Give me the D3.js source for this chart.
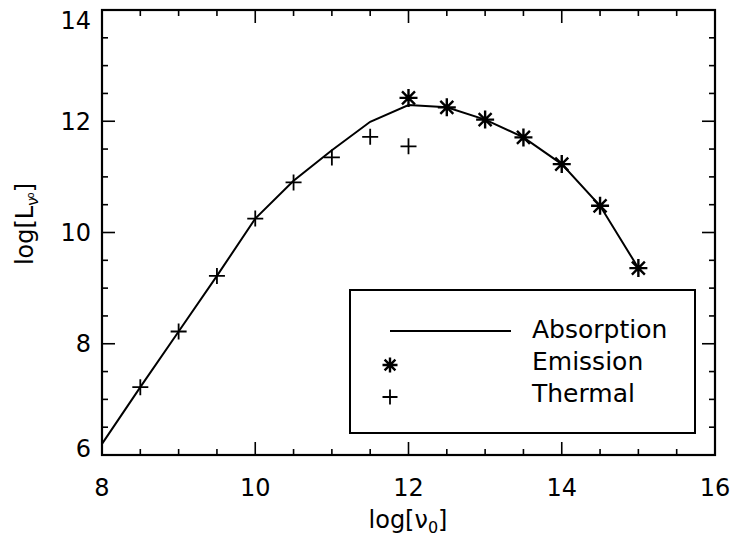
<!DOCTYPE html>
<html>
<head>
<meta charset="utf-8">
<script src="https://cdn.jsdelivr.net/npm/d3@7"></script>
<style>
  html, body { margin: 0; padding: 0; background: #fff; }
  svg { display: block; font-family: "DejaVu Sans", sans-serif; }
</style>
</head>
<body>
<div id="chart"></div>
<script>
// ── data ──
const freqAbs = [8, 8.5, 9, 9.5, 10, 10.5, 11, 11.5, 12, 12.5, 13, 13.5, 14, 14.5, 15];
const absorption = [6.2, 7.22, 8.22, 9.22, 10.25, 10.93, 11.48, 11.99, 12.29, 12.25, 12.03, 11.71, 11.23, 10.48, 9.36];
const freqEm = [12, 12.5, 13, 13.5, 14, 14.5, 15];
const emission = [12.42, 12.25, 12.03, 11.71, 11.23, 10.48, 9.36];
const freqTh = [8.5, 9, 9.5, 10, 10.5, 11, 11.5, 12];
const thermal = [7.22, 8.22, 9.22, 10.25, 10.9, 11.35, 11.72, 11.55];
const xTicks = [8, 10, 12, 14, 16];
const yTicks = [6, 8, 10, 12, 14];
const legendItems = ["Absorption", "Emission", "Thermal"];

const width = 735, height = 544;
const pLeft = 102, pRight = 715, pTop = 10, pBottom = 455;

const x = d3.scaleLinear().domain([8, 16]).range([pLeft, pRight]);
const y = d3.scaleLinear().domain([6, 14]).range([pBottom, pTop]);

const svg = d3.select("#chart").append("svg")
  .attr("width", width).attr("height", height)
  .attr("viewBox", [0, 0, width, height]);

// ── frame + inward ticks on all sides ──
const minorX = d3.range(8, 16.01, 0.5);
const minorY = d3.range(6, 14.01, 0.5);
const isMajor = v => Math.abs(v / 2 - Math.round(v / 2)) < 1e-6;
const tickLen = v => isMajor(v) ? 13 : 6;

const ticks = svg.append("g").attr("stroke", "#000").attr("stroke-width", 1.6);
ticks.append("g").selectAll("line").data(minorX).join("line")
  .attr("x1", d => x(d)).attr("x2", d => x(d))
  .attr("y1", pBottom).attr("y2", d => pBottom - tickLen(d));
ticks.append("g").selectAll("line").data(minorX).join("line")
  .attr("x1", d => x(d)).attr("x2", d => x(d))
  .attr("y1", pTop).attr("y2", d => pTop + tickLen(d));
ticks.append("g").selectAll("line").data(minorY).join("line")
  .attr("y1", d => y(d)).attr("y2", d => y(d))
  .attr("x1", pLeft).attr("x2", d => pLeft + tickLen(d));
ticks.append("g").selectAll("line").data(minorY).join("line")
  .attr("y1", d => y(d)).attr("y2", d => y(d))
  .attr("x1", pRight).attr("x2", d => pRight - tickLen(d));

svg.append("rect")
  .attr("x", pLeft).attr("y", pTop)
  .attr("width", pRight - pLeft).attr("height", pBottom - pTop)
  .attr("fill", "none").attr("stroke", "#000").attr("stroke-width", 2.2);

// tick labels
svg.append("g").selectAll("text").data(xTicks).join("text")
  .attr("x", d => x(d)).attr("y", 496)
  .attr("text-anchor", "middle").attr("font-size", 24)
  .text(d => d);

svg.append("g").selectAll("text").data(yTicks).join("text")
  .attr("x", pLeft - 11)
  .attr("y", d => Math.min(Math.max(y(d), pTop + 10), pBottom - 7))
  .attr("dy", "0.36em")
  .attr("text-anchor", "end").attr("font-size", 24)
  .text(d => d);

// axis titles
const xt = svg.append("text")
  .attr("x", 408).attr("y", 528)
  .attr("text-anchor", "middle").attr("font-size", 24);
xt.append("tspan").text("log[ν");
xt.append("tspan").attr("font-size", 16).attr("dy", 5).text("0");
xt.append("tspan").attr("dy", -5).text("]");

const yt = svg.append("text")
  .attr("transform", "translate(33,224) rotate(-90)")
  .attr("text-anchor", "middle").attr("font-size", 24);
yt.append("tspan").text("log[L");
yt.append("tspan").attr("font-size", 15).attr("dy", 5).text("ν");
yt.append("tspan").attr("font-size", 10).attr("dy", -4).attr("dx", -1).text("o");
yt.append("tspan").attr("dy", -1).text("]");

// ── data marks ──
const line = d3.line().x(d => x(d[0])).y(d => y(d[1]));
svg.append("path")
  .datum(d3.zip(freqAbs, absorption))
  .attr("fill", "none").attr("stroke", "#000").attr("stroke-width", 2)
  .attr("d", line);

const plusPath = s => `M${-s},0H${s}M0,${-s}V${s}`;
const starPath = s => {
  const d = s * 0.72;
  return `M${-s},0H${s}M0,${-s}V${s}M${-d},${-d}L${d},${d}M${-d},${d}L${d},${-d}`;
};

svg.append("g").selectAll("path").data(d3.zip(freqTh, thermal)).join("path")
  .attr("transform", d => `translate(${x(d[0])},${y(d[1])})`)
  .attr("d", plusPath(8))
  .attr("fill", "none").attr("stroke", "#000").attr("stroke-width", 1.8);

svg.append("g").selectAll("path").data(d3.zip(freqEm, emission)).join("path")
  .attr("transform", d => `translate(${x(d[0])},${y(d[1])})`)
  .attr("d", starPath(9))
  .attr("fill", "none").attr("stroke", "#000").attr("stroke-width", 2.4);

// ── legend ──
const lg = svg.append("g");
lg.append("rect")
  .attr("x", 350).attr("y", 290).attr("width", 345).attr("height", 143)
  .attr("fill", "#fff").attr("stroke", "#000").attr("stroke-width", 2);
lg.append("line")
  .attr("x1", 390).attr("x2", 511).attr("y1", 331).attr("y2", 331)
  .attr("stroke", "#000").attr("stroke-width", 2);
lg.append("path")
  .attr("transform", "translate(390,365)")
  .attr("d", starPath(7.5))
  .attr("fill", "none").attr("stroke", "#000").attr("stroke-width", 2.4);
lg.append("path")
  .attr("transform", "translate(390,397)")
  .attr("d", plusPath(7.5))
  .attr("fill", "none").attr("stroke", "#000").attr("stroke-width", 1.8);
lg.selectAll("text").data(legendItems).join("text")
  .attr("x", 532).attr("y", (d, i) => [338, 370, 402][i])
  .attr("font-size", 25)
  .text(d => d);
</script>
</body>
</html>
